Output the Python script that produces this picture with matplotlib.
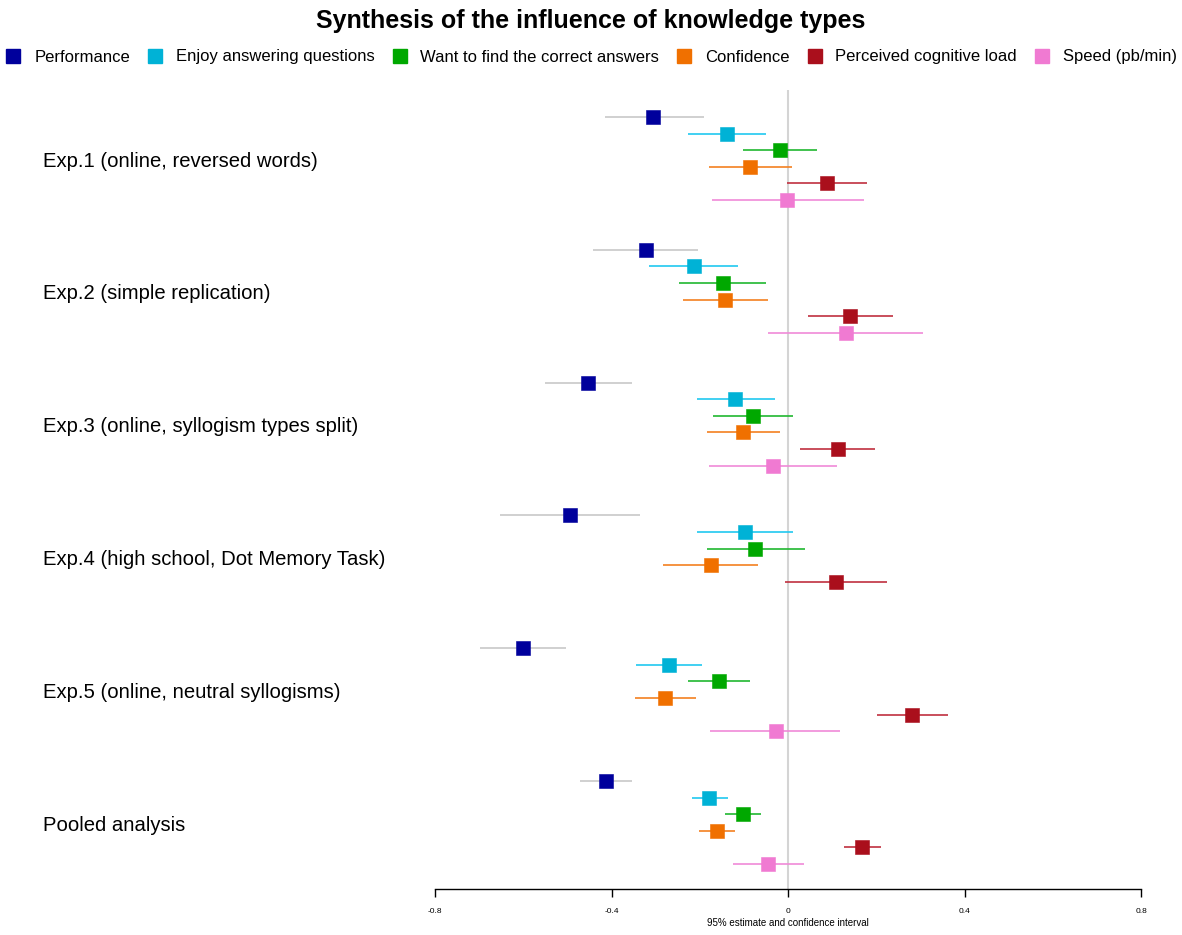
import numpy as np
import matplotlib
matplotlib.use("Agg")
import matplotlib.pyplot as plt
from matplotlib.lines import Line2D
import matplotlib.transforms as mtransforms

plt.rcParams['font.family'] = ['Liberation Sans', 'DejaVu Sans']

groups = ["Exp.1 (online, reversed words)", "Exp.2 (simple replication)",
          "Exp.3 (online, syllogism types split)", "Exp.4 (high school, Dot Memory Task)",
          "Exp.5 (online, neutral syllogisms)", "Pooled analysis"]
series = ["Performance", "Enjoy answering questions", "Want to find the correct answers",
          "Confidence", "Perceived cognitive load", "Speed (pb/min)"]
colors = ["#00009C", "#00B2D6", "#00A800", "#F07000", "#AA0F1C", "#F07AD2"]
ci_colors = ["#C8C8C8", "#20C8F0", "#20B830", "#F48020", "#C03040", "#F08AD8"]

# estimates per series, one per group
performance = [-0.305, -0.322, -0.453, -0.495, -0.601, -0.412]
performance_lo = [-0.415, -0.442, -0.551, -0.652, -0.698, -0.472]
performance_hi = [-0.190, -0.204, -0.353, -0.336, -0.504, -0.354]

enjoy = [-0.138, -0.213, -0.119, -0.098, -0.269, -0.178]
enjoy_lo = [-0.226, -0.314, -0.207, -0.207, -0.344, -0.218]
enjoy_hi = [-0.050, -0.114, -0.029, 0.012, -0.195, -0.136]

want = [-0.018, -0.148, -0.080, -0.074, -0.157, -0.101]
want_lo = [-0.101, -0.246, -0.169, -0.184, -0.226, -0.143]
want_hi = [0.065, -0.049, 0.012, 0.039, -0.085, -0.061]

confidence = [-0.086, -0.142, -0.101, -0.175, -0.278, -0.162]
confidence_lo = [-0.179, -0.237, -0.184, -0.283, -0.346, -0.202]
confidence_hi = [0.009, -0.046, -0.017, -0.067, -0.209, -0.120]

load = [0.088, 0.141, 0.113, 0.108, 0.282, 0.168]
load_lo = [-0.002, 0.045, 0.028, -0.007, 0.201, 0.127]
load_hi = [0.180, 0.237, 0.198, 0.225, 0.363, 0.210]

speed = [-0.002, 0.131, -0.033, np.nan, -0.027, -0.045]
speed_lo = [-0.172, -0.046, -0.178, np.nan, -0.176, -0.125]
speed_hi = [0.172, 0.307, 0.112, np.nan, 0.118, 0.036]

est = [performance, enjoy, want, confidence, load, speed]
lo = [performance_lo, enjoy_lo, want_lo, confidence_lo, load_lo, speed_lo]
hi = [performance_hi, enjoy_hi, want_hi, confidence_hi, load_hi, speed_hi]

xticks = [-0.8, -0.4, 0, 0.4, 0.8]
xticklabels = ["-0.8", "-0.4", "0", "0.4", "0.8"]

fig = plt.figure(figsize=(11.82, 9.35), dpi=100)
ax = fig.add_axes([435/1182, 46/935, (1141-435)/1182, (889-90)/935])

rows_per_group = 8
ax.axvline(0, color="#D4D4D4", lw=1.5, zorder=0)

for s in range(len(series)):
    for g in range(len(groups)):
        e = est[s][g]
        if np.isnan(e):
            continue
        y = g * rows_per_group + s
        ax.plot([lo[s][g], hi[s][g]], [y, y], color=ci_colors[s], lw=1.2, zorder=2,
                solid_capstyle='butt')
        ax.plot([e], [y], marker='s', ms=10.3, color=colors[s], mec=colors[s],
                mew=0.4, zorder=3, linestyle='none')

ax.set_xlim(-0.8, 0.8)
ax.set_ylim(5*rows_per_group + 5 + 1.5, -1.63)

trans = mtransforms.blended_transform_factory(fig.transFigure, ax.transData)
for g, name in enumerate(groups):
    ax.text(43/1182, g*rows_per_group + 2.65, name, transform=trans, fontsize=14.6,
            ha='left', va='center', clip_on=False)

for sp in ["left", "top", "right"]:
    ax.spines[sp].set_visible(False)
ax.spines["bottom"].set_linewidth(1.0)
ax.set_yticks([])
ax.set_xticks(xticks)
ax.set_xticklabels(xticklabels, fontsize=6)
ax.tick_params(axis='x', length=6, width=1.0, pad=8)
ax.set_xlabel("95% estimate and confidence interval", fontsize=7, labelpad=2)

fig.text(0.5, 1 - 21/935, "Synthesis of the influence of knowledge types",
         fontsize=18, fontweight='bold', ha='center', va='center')

handles = [Line2D([], [], marker='s', color=c, ms=10.3, linestyle='none') for c in colors]
fig.legend(handles, series, loc='center', bbox_to_anchor=(0.5, 1 - 57/935), ncol=6,
           frameon=False, fontsize=12, handlelength=1.0, handletextpad=0.75,
           columnspacing=1.0, borderpad=0)

fig.savefig("out.png", dpi=100)
